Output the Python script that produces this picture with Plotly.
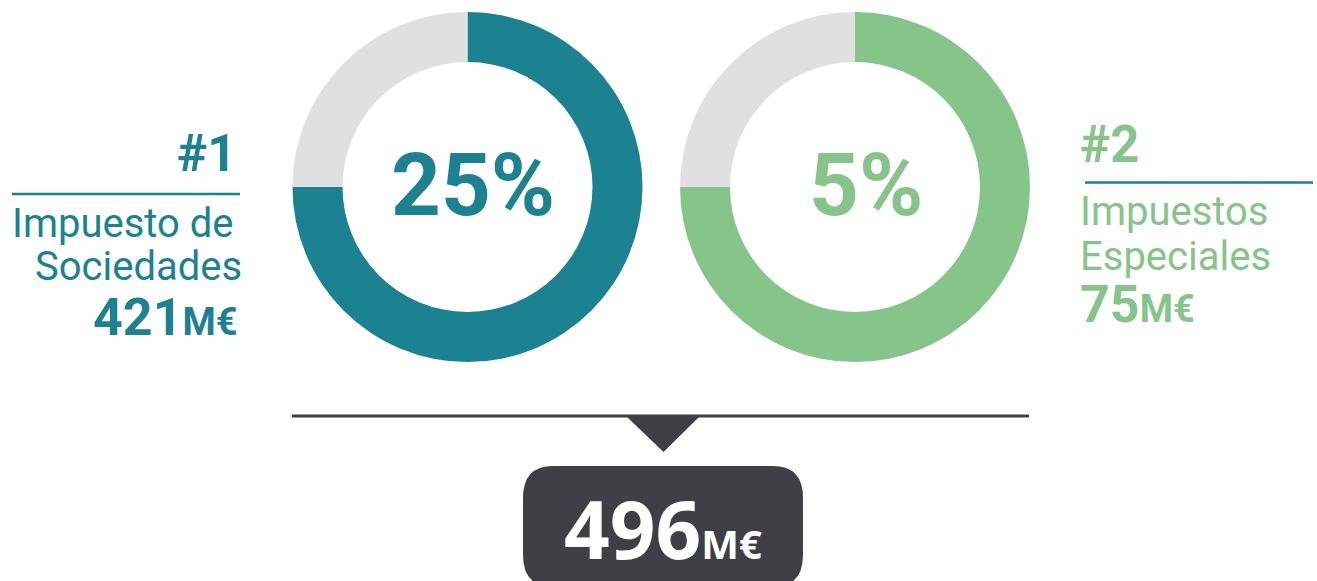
import plotly.graph_objects as go

# ---- data ----
categories = ["Impuesto de Sociedades", "Impuestos Especiales"]
ranks = ["#1", "#2"]
amounts_meur = [421, 75]
shares_pct = [25, 5]
ring_filled = [75, 75]          # visible arc of each donut (decorative), %
total_meur = 496

TEAL = "#1a8290"
GREEN = "#86c58a"
GREY = "#e1e0e1"
DARK = "#3f4045"
ring_colors = [TEAL, GREEN]

W, H = 1317, 581
fig = go.Figure()

# donuts (centres / radius in px, converted to paper domain)
centres = [(467.5, 187), (855, 187)]
R = 175
for (cx, cy), filled, col in zip(centres, ring_filled, ring_colors):
    fig.add_trace(go.Pie(
        values=[filled, 100 - filled],
        marker=dict(colors=[col, GREY], line=dict(width=0)),
        hole=125 / 175, sort=False, direction="clockwise", rotation=0,
        textinfo="none", hoverinfo="skip", showlegend=False,
        domain=dict(x=[(cx - R) / W, (cx + R) / W],
                    y=[1 - (cy + R) / H, 1 - (cy - R) / H]),
    ))

# invisible cartesian axes in pixel units for shapes/annotations
fig.update_xaxes(range=[0, W], visible=False, fixedrange=True)
fig.update_yaxes(range=[H, 0], visible=False, fixedrange=True)

shapes = [
    # separators under ranks
    dict(type="line", x0=12, x1=240, y0=194, y1=194, line=dict(color=TEAL, width=2.5)),
    dict(type="line", x0=1085, x1=1313, y0=182.5, y1=182.5, line=dict(color=TEAL, width=2.5)),
    # sum line
    dict(type="line", x0=292, x1=1029, y0=416, y1=416, line=dict(color=DARK, width=3)),
    # triangle
    dict(type="path", path="M 627 417 L 699 417 L 663.5 452 Z",
         fillcolor=DARK, line=dict(width=0)),
    # rounded box
    dict(type="path",
         path=("M 553 466 L 773 466 Q 803 466 803 498 L 803 555 Q 803 587 773 587 "
               "L 553 587 Q 523 587 523 555 L 523 498 Q 523 466 553 466 Z"),
         fillcolor=DARK, line=dict(width=0)),
]
for s in shapes:
    s.update(xref="x", yref="y", layer="above")
fig.update_layout(shapes=shapes)

ROB = "Roboto"
ann = []
def A(text, x, y, xanchor, size, color, weight="normal", family=ROB):
    ann.append(dict(text=text, x=x, y=y, xref="x", yref="y", xanchor=xanchor,
                    yanchor="middle", showarrow=False,
                    font=dict(family=family, size=size, color=color, weight=weight)))

HEAVY = "bold"

# left label block
A(ranks[0], 238, 153, "right", 51, TEAL, HEAVY)
A("Impuesto de", 236, 223, "right", 40, TEAL)
A("Sociedades", 244, 266, "right", 40, TEAL)
A(f"{amounts_meur[0]}<span style='font-size:38px'>M€</span>", 240, 317, "right", 52, TEAL, HEAVY)

# right label block
A(ranks[1], 1078, 144, "left", 51, GREEN, HEAVY)
A("Impuestos", 1078, 211, "left", 40, GREEN)
A("Especiales", 1078, 256, "left", 40, GREEN)
A(f"{amounts_meur[1]}<span style='font-size:38px'>M€</span>", 1078, 304, "left", 52, GREEN, HEAVY)

# centre percentages
A(f"{shares_pct[0]}%", 473, 185, "center", 87, TEAL, HEAVY)
A(f"{shares_pct[1]}%", 866, 185, "center", 87, GREEN, HEAVY)

# total
A(f"{total_meur}<span style='font-size:40px'>M€</span>", 663, 527, "center", 80, "white", "bold", "Open Sans")

fig.update_layout(annotations=ann, width=W, height=H,
                  margin=dict(l=0, r=0, t=0, b=0),
                  paper_bgcolor="white", plot_bgcolor="white")

fig.write_html("out.html", config={"displayModeBar": False},
               post_script="document.body.style.margin='0';document.body.style.overflow='hidden';")
